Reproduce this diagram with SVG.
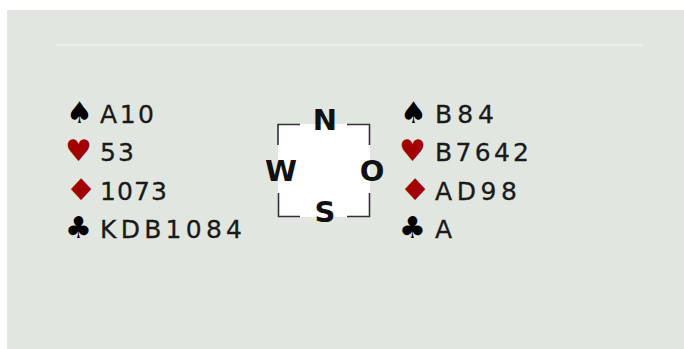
<svg xmlns="http://www.w3.org/2000/svg" width="684" height="349" viewBox="0 0 684 349">
<style>
.bg{fill:#e1e6e0}
.sep{stroke:#ebefe9;stroke-width:2}
.hand{font-family:"DejaVu Sans",sans-serif;font-size:25px;fill:#1a1a1a;stroke:#1a1a1a;stroke-width:0.3}
.suit{font-family:"DejaVu Sans",sans-serif;font-size:30px}
.blk{fill:#000}
.red{fill:#a00000}
.dir{font-family:"DejaVu Sans",sans-serif;font-weight:bold;font-size:29px;fill:#111;text-anchor:middle}
.br{fill:none;stroke:#333;stroke-width:1.6}
</style>
<rect class="bg" x="7" y="10" width="677" height="339"/>
<line class="sep" x1="56" y1="45" x2="643" y2="45"/>
<g id="west">
<text class="suit blk" x="66" y="123">♠</text>
<text class="hand" x="100" y="123" textLength="54" lengthAdjust="spacing">A10</text>
<text class="suit red" x="65" y="161">♥</text>
<text class="hand" x="100" y="161" textLength="34" lengthAdjust="spacing">53</text>
<text class="suit red" transform="translate(81,200) scale(1.2,1)" x="-13.4" y="0">♦</text>
<text class="hand" x="100" y="200" textLength="67" lengthAdjust="spacing">1073</text>
<text class="suit blk" x="65" y="238">♣</text>
<text class="hand" x="100" y="238" textLength="142" lengthAdjust="spacing">KDB1084</text>
</g>
<g id="east">
<text class="suit blk" x="400" y="123">♠</text>
<text class="hand" x="435" y="123" textLength="59" lengthAdjust="spacing">B84</text>
<text class="suit red" x="399" y="161">♥</text>
<text class="hand" x="435" y="161" textLength="94" lengthAdjust="spacing">B7642</text>
<text class="suit red" transform="translate(415,200) scale(1.2,1)" x="-13.4" y="0">♦</text>
<text class="hand" x="435" y="200" textLength="82" lengthAdjust="spacing">AD98</text>
<text class="suit blk" x="399" y="238">♣</text>
<text class="hand" x="435" y="238" textLength="20" lengthAdjust="spacing">A</text>
</g>
<g id="compass">
<rect x="278" y="124" width="92" height="93" fill="#fff"/>
<path class="br" d="M278,145V124.5H300M347,124.5H369.5V145M369.5,193V216.5H347M300,216.5H278.5V193"/>
<text class="dir" x="325" y="130">N</text>
<text class="dir" x="281" y="181">W</text>
<text class="dir" x="372" y="181">O</text>
<text class="dir" x="325" y="222">S</text>
</g>
</svg>
